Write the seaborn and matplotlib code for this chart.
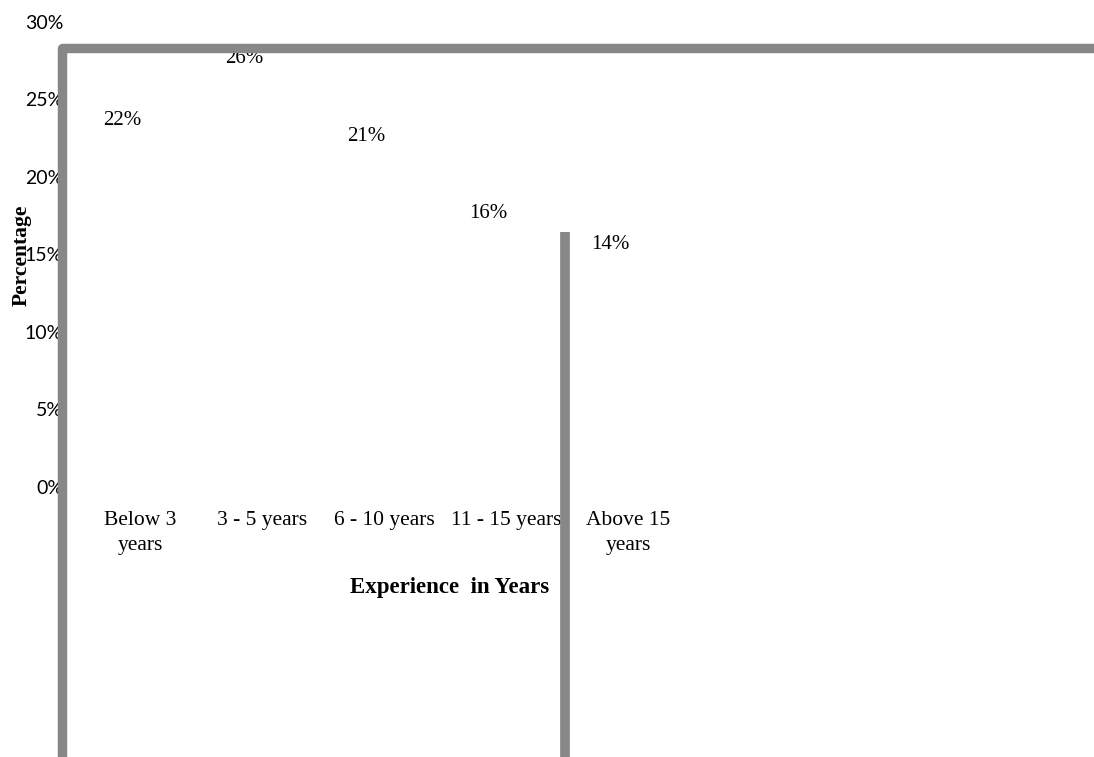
import matplotlib
matplotlib.use('Agg')
import matplotlib.pyplot as plt
from matplotlib.lines import Line2D
import seaborn as sns
import pandas as pd

# data
categories = ['Below 3\nyears', '3 - 5 years', '6 - 10 years', '11 - 15 years', 'Above 15\nyears']
percentages = [22, 26, 21, 16, 14]
yticks = [0, 5, 10, 15, 20, 25, 30]
ytick_labels = ['0%', '5%', '10%', '15%', '20%', '25%', '30%']

df = pd.DataFrame({'Experience': categories, 'Percentage': percentages})

sns.set_style('white')
plt.rcParams['text.color'] = 'black'
plt.rcParams['axes.labelcolor'] = 'black'
plt.rcParams['xtick.color'] = 'black'
plt.rcParams['ytick.color'] = 'black'

W, H = 1094, 757
fig = plt.figure(figsize=(W / 100, H / 100), dpi=100)
ax = fig.add_axes([63 / W, 1 - 487 / H, 1 - 63 / W, (487 - 22) / H])

# bars have no fill in the original, only the labels show
sns.barplot(data=df, x='Experience', y='Percentage', ax=ax,
            facecolor='none', edgecolor='none', linewidth=0)

serif = 'Liberation Serif'
for i, v in enumerate(percentages):
    ax.annotate(f'{v}%', (i, v), xytext=(-13, 18), textcoords='offset points',
                ha='center', va='center', fontsize=15, family=serif)

ax.set_ylim(0, 30)
ax.set_xlim((63 - 140) / 122, (W - 140) / 122)
ax.set_yticks(yticks)
ax.set_yticklabels(ytick_labels, fontsize=14, family='Lato')
ax.set_xticks(range(len(categories)))
ax.set_xticklabels(categories, fontsize=15.5, family=serif, linespacing=1.45)
ax.tick_params(axis='y', length=0, pad=0)
ax.tick_params(axis='x', length=0, pad=17)
for s in ax.spines.values():
    s.set_visible(False)

ax.set_xlabel('Experience  in Years', fontsize=16.5, family=serif, fontweight='bold')
ax.xaxis.set_label_coords((450 - 63) / (W - 63), (487 - 588) / 465)
ax.xaxis.label.set_va('center')
ax.set_ylabel('Percentage', fontsize=15.5, family=serif, fontweight='bold')
ax.yaxis.set_label_coords((22 - 63) / (W - 63), (487 - 255) / 465)
ax.yaxis.label.set_va('center')

# grey frame strokes that cut across the chart
gray = '#878787'
fig.add_artist(Line2D([62 / W, 62 / W, 1.0], [0.0, 1 - 47.5 / H, 1 - 47.5 / H],
                      transform=fig.transFigure, color=gray, lw=6.8,
                      solid_joinstyle='round', solid_capstyle='butt'))
fig.add_artist(Line2D([564.5 / W, 564.5 / W], [0.0, 1 - 232 / H],
                      transform=fig.transFigure, color=gray, lw=7.0,
                      solid_capstyle='butt'))

fig.savefig('out.png', dpi=100)
